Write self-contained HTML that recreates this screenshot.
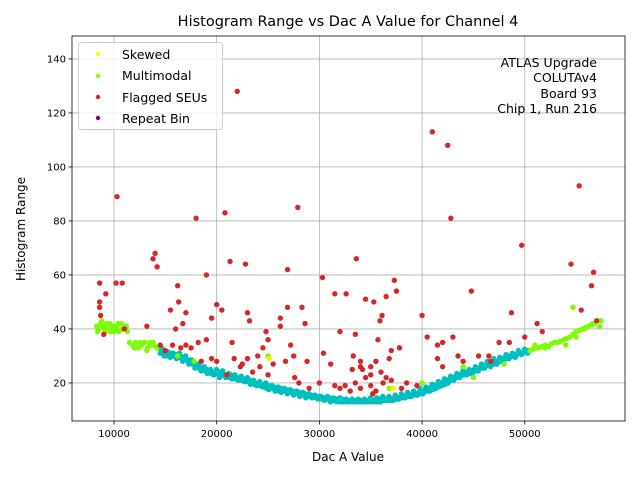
<!DOCTYPE html>
<html><head><meta charset="utf-8"><style>
body{margin:0;background:#fff;font-family:"Liberation Sans","DejaVu Sans",sans-serif;}
svg text{font-family:"DejaVu Sans","Liberation Sans",sans-serif;}
</style></head><body>
<svg id="chart" width="640" height="480" xmlns="http://www.w3.org/2000/svg">
<rect x="0" y="0" width="640" height="480" fill="#fff"/>
<text x="348" y="26" font-size="14.5" text-anchor="middle">Histogram Range vs Dac A Value for Channel 4</text>
<text x="348" y="461" font-size="12" text-anchor="middle">Dac A Value</text>
<text transform="translate(25,229) rotate(-90)" font-size="12" text-anchor="middle">Histogram Range</text>
<g id="grid"></g><g id="marks"></g><g id="axes"></g>
<g font-size="12.5" text-anchor="end">
<text x="597" y="67">ATLAS Upgrade</text><text x="597" y="82">COLUTAv4</text><text x="597" y="98">Board 93</text><text x="597" y="113">Chip 1, Run 216</text></g>
<g>
<rect x="78.5" y="42.5" width="144" height="87" rx="3" fill="#fff" fill-opacity="0.8" stroke="#ccc"/>
<circle cx="98" cy="54" r="2.2" fill="#ffff00"/><text x="122" y="59" font-size="12.5">Skewed</text>
<circle cx="98" cy="76" r="2.2" fill="#7fff00"/><text x="122" y="80" font-size="12.5">Multimodal</text>
<circle cx="98" cy="97" r="2.2" fill="#dd2222"/><text x="122" y="102" font-size="12.5">Flagged SEUs</text>
<circle cx="98" cy="118" r="2.2" fill="#800080"/><text x="122" y="123" font-size="12.5">Repeat Bin</text>
</g>
</svg>
<script>
const xTicks=[10000,20000,30000,40000,50000];
const yTicks=[20,40,60,80,100,120,140];
const cyanX=[14500,14800,15100,15400,15700,16000,16300,16600,16900,17200,17500,17800,18100,18400,18700,19000,19300,19600,19900,20200,20500,20800,21100,21400,21700,22000,22300,22600,22900,23200,23500,23800,24100,24400,24700,25000,25300,25600,25900,26200,26500,26800,27100,27400,27700,28000,28300,28600,28900,29200,29500,29800,30100,30400,30700,31000,31300,31600,31900,32200,32500,32800,33100,33400,33700,34000,34300,34600,34900,35200,35500,35800,36100,36400,36700,37000,37300,37600,37900,38200,38500,38800,39100,39400,39700,40000,40300,40600,40900,41200,41500,41800,42100,42400,42700,43000,43300,43600,43900,44200,44500,44800,45100,45400,45700,46000,46300,46600,46900,47200,47500,47800,48100,48400,48700,49000,49300,49600,49900,50200];
const cyanA=[31,31,30,30,30,29.5,29.5,29,29,28,27.5,27,26,26,25,25,24.5,24,24,24,23.5,23,23,23,22.5,22,22,21.5,21,21,20.5,20,20,19.5,19.5,19,18.5,18.5,18,18,17.5,17.5,17,17,16.5,16.5,16,16,15.5,15.5,15,15,15,14.5,14.5,14.5,14,14,14,14,13.5,13.5,13.5,13.5,13.5,13.5,13.5,13.5,13.5,13.5,13.5,14,14,14,14,14,14.5,14.5,15,15,15.5,15.5,16,16,16.5,17,17.5,18,18.5,19,19.5,20,20.5,21,21.5,22,22.5,23,23.5,24,24,24.5,25,25.5,26,26.5,27,27.5,28,28,28.5,29,29.5,30,30,30.5,31,31,31.5,32];
const cyanB=[33,32,31.5,31,30.5,30.5,30,29.5,28.5,28.5,27,26,25.5,25,24.5,24,23.5,23,23.5,22.5,23,22.5,22,22,21.5,21.5,21,20.5,20.5,20,19.5,19.5,19,19,18,18,18,17.5,17,17,17,16.5,16.5,16,16,15.5,15.5,15,15,15,14.5,14.5,14,14,14,13.5,13.5,13.5,13,13,13,13,13,13,13,13,13,13,13,13,13,13,13.5,13.5,13.5,13.5,14,14,14.5,14.5,15,15,15.5,15.5,16,16.5,17,17,17.5,18,18.5,19,19.5,20,21,21.5,22,22.5,23,23,23.5,24,24.5,25,25.5,26,26.5,27,27,27.5,28,28.5,29,29.5,30,30,31,31,31.5,32];
const cyanC=[32,30,31,29.5,31,29,31,28,30,27,28.5,25.5,27,24.5,26,23.5,25,23,25,22,24.5,22,23.5,21.5,23,21,22.5,20.5,22,19.5,21,19,20.5,18.5,20,17.5,19,17,18.5,16.5,18,16,17.5,15.5,17,15,16.5,14.5,16,14.5,15.5,14,15,13.5,15,13,14.5,13,14.5,13,14,13,14,13,14,13,14,13,14.5,13,14.5,13.5,15,13.5,15,14,15.5,14,16,14.5,16.5,15,17,15.5,18,16,18.5,17,19.5,18,20.5,19,21.5,20,22.5,21,23.5,22,24.5,23,25,23.5,26,24.5,27,25.5,28,26,29,27,29.5,28,30.5,29,31,29.5,32,30.5,32.5,31];
const greenX=[8300,8500,8700,8900,9100,9300,9500,9700,9900,10100,10300,10500,10700,10900,11100,11300,11500,11800,12100,12400,12700,13000,13300,13600,13900,14200,50500,50800,51100,51400,51700,52000,52300,52600,52900,53200,53500,53800,54100,54400,54700,55000,55300,55600,55900,56200,56500,56800,57100,57400,25000,17800,36800,40000,44000,45000,48000,54700,16200,13500,8400,8800,9200,9600,10000,10400,10800,11200,12000,12600,13200,13800,51000,52000,53000,54000,55000,55800,56600,57300];
const greenY=[41,40,42,41,40,42,41,39,41,40,41,39,42,40,41,39,35,34,35,33,34,35,33,34,34,33,32,32.5,33,33,33.5,34,33.5,34.5,35,35,35.5,36,36.5,37,38,39,39.5,40,40.5,41,41.5,42,43,43,30,28,18,20,26,22,27,48,30,35,39,43,39,42,39,42,40,41,33,35,32,35,34,33,35,34,37,40,42,41,44,41];
const redX=[8600,8600,8600,8700,9200,9000,10300,10200,10800,11000,13200,13800,14000,14200,15500,16200,16300,16000,16700,17000,18000,19000,19500,20000,20500,20800,21300,22000,22800,23000,23200,21700,22300,24000,24500,24800,25000,26200,26200,26900,26900,27900,28300,28600,27500,26700,27200,28800,30300,30400,30000,31100,31500,32000,32600,33300,33600,33500,34000,34000,34500,35000,35300,35700,35900,36100,36500,37000,37300,37500,37800,36500,38500,39500,40000,40500,41000,41500,41500,42000,42500,42800,42000,43000,43500,44000,44800,45500,46500,46700,47500,48500,48700,49700,50000,51200,51700,54500,55300,55500,56500,56700,57000,32500,33000,33500,34000,34500,35000,35200,35500,36000,36200,37000,38000,32000,31500,33200,34200,35000,35500,36800,29000,28000,27600,25500,25000,24200,23500,23000,22500,21000,20000,19500,18500,17500,17000,16500,15700,15000,14500,19000,18200,21500];
const redY=[57,50,48,45,53,38,89,57,57,40,41,66,68,63,47,56,50,40,42,46,81,60,44,49,47,83,65,128,64,46,43,29,26,30,33,39,36,44,41,62,48,85,48,42,30,28,34,28,59,31,20,27,53,39,53,30,66,38,28,26,51,23,50,36,43,45,52,32,58,54,33,22,20,19,45,37,113,34,29,26,108,81,35,37,30,28,54,30,30,28,35,35,46,71,37,42,39,64,93,47,56,61,43,19,17,20,18,22,19,16,17,24,20,21,18,18,19,25,25,26,28,29,18,20,22,27,23,26,24,29,27,23,28,29,28,33,34,33,34,32,34,36,35,35];
const yellowX=[37200,25100];
const yellowY=[18,29];
const NS='http://www.w3.org/2000/svg';
const L=72,R=625,T=36,B=421,X0=5910,X1=59760,Y0=5.9,Y1=148.5;
function sx(v){return L+(v-X0)/(X1-X0)*(R-L);}
function sy(v){return B-(v-Y0)/(Y1-Y0)*(B-T);}
function mk(tag,attrs,parent){const e=document.createElementNS(NS,tag);for(const k in attrs)e.setAttribute(k,attrs[k]);parent.appendChild(e);return e;}
const grid=document.getElementById('grid'),axes=document.getElementById('axes'),marks=document.getElementById('marks');
xTicks.forEach(t=>{const x=sx(t);
 const g=mk('line',{x1:x,x2:x,y1:T,y2:B,stroke:'#b0b0b0','stroke-width':0.8},grid);
 
 
 mk('line',{x1:x,x2:x,y1:B,y2:B+3.5,stroke:'#000','stroke-width':0.8},axes);
 const tx=mk('text',{x:x,y:B+16,'font-size':10,'text-anchor':'middle'},axes);tx.textContent=t;
 
 });
yTicks.forEach(t=>{const y=sy(t);
 const g=mk('line',{x1:L,x2:R,y1:y,y2:y,stroke:'#b0b0b0','stroke-width':0.8},grid);
 
 
 mk('line',{x1:L-3.5,x2:L,y1:y,y2:y,stroke:'#000','stroke-width':0.8},axes);
 const tx=mk('text',{x:L-6,y:y+3.5,'font-size':10,'text-anchor':'end'},axes);tx.textContent=t;
 
 });
const fr=mk('rect',{x:L,y:T,width:R-L,height:B-T,fill:'none',stroke:'#000','stroke-width':0.8},axes);


function dot(x,y,c,name){const d=mk('circle',{cx:sx(x),cy:sy(y),r:2.7,fill:c},marks);
 
 }
cyanX.forEach((x,i)=>{dot(x,cyanA[i],'#00bfbf','normal-point');dot(x+150,cyanB[i],'#00bfbf','normal-point');dot(x+80,cyanC[i],'#00bfbf','normal-point');});
greenX.forEach((x,i)=>dot(x,greenY[i],'#7cfc00','multimodal-point'));
redX.forEach((x,i)=>dot(x,redY[i],'#d62728','flagged-seu-point'));
yellowX.forEach((x,i)=>dot(x,yellowY[i],'#ffee00','skewed-point'));
</script>
</body></html>
